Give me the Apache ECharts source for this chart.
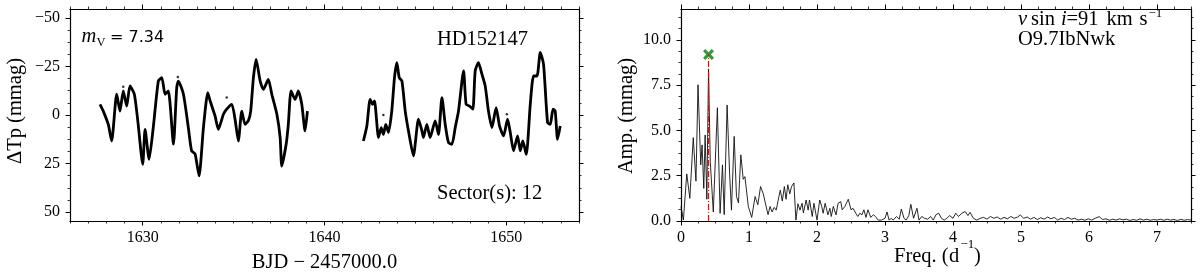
<!DOCTYPE html>
<html><head><meta charset="utf-8">
<script src="https://cdn.jsdelivr.net/npm/echarts@6/dist/echarts.min.js"></script>
<style>html,body{margin:0;padding:0;background:#fff}#c{width:1200px;height:279px}</style>
</head><body><div id="c"></div>
<script>
// ---- Light curve (BJD - 2457000, mmag) ----
const time1=[1627.65,1627.83,1628.11,1628.29,1628.57,1628.75,1628.93,1629.12,1629.30,1629.54,1629.73,1630.00,1630.13,1630.35,1630.58,1630.86,1631.05,1631.23,1631.41,1631.69,1631.87,1631.96,1632.24,1632.51,1632.69,1632.88,1633.10,1633.34,1633.58,1633.71,1633.98,1634.16,1634.44,1634.62,1634.90,1635.08,1635.26,1635.45,1635.63,1635.81,1635.94,1636.09,1636.24,1636.46,1636.64,1636.91,1637.10,1637.38,1637.56,1637.65,1637.89,1638.01,1638.16,1638.38,1638.56,1638.75,1638.93,1639.06];
const mag1=[-5.5,-2,5,13.4,-10.7,-2,-12.4,-4.6,-15,-10.7,3,25.4,7.4,22.8,6.5,-17.5,-19.3,-10.7,-12.4,15,-14,-17.5,-10.7,6.5,18.5,20,31.4,6.5,-11.5,-7.2,0.5,7.4,-0.4,-3,-5.5,2.2,13.4,-2,4.8,3,-2,-19.3,-28.7,-17.5,-13.2,-18.4,-10.7,-0.4,11.6,26.3,15.1,4.8,-12.4,-8,-12.4,-5.5,8.2,-2];
const time2=[1642.14,1642.33,1642.51,1642.64,1642.75,1642.97,1643.12,1643.24,1643.37,1643.52,1643.70,1643.85,1643.98,1644.11,1644.26,1644.44,1644.62,1644.89,1645.17,1645.36,1645.44,1645.63,1645.81,1646.09,1646.27,1646.46,1646.64,1646.82,1647.01,1647.19,1647.37,1647.65,1647.79,1647.98,1648.16,1648.29,1648.47,1648.66,1648.84,1649.02,1649.21,1649.44,1649.63,1649.85,1650.07,1650.22,1650.40,1650.62,1650.77,1650.91,1651.10,1651.32,1651.50,1651.69,1651.87,1652.05,1652.27,1652.42,1652.57,1652.69,1652.82,1652.97];
const mag2=[13.4,5.7,-8,-5.5,-7.2,11.6,6.5,10,4.8,9,-2,-19.3,-27,-19.3,-17.5,-2,8.2,21,2.2,8.2,11.6,4.8,11.6,3,10,-9,4.8,14.2,15.1,6.5,-2,-22.7,-5.5,-4.6,-3,-22.7,-27,-21,-15,-2,6.5,-3.8,5.7,10.8,2.2,9,18.5,10.8,18.5,13.4,20.3,-5.5,-20.1,-20.1,-32.2,-26.1,3.9,4.8,-3,-2,12.5,5.7];
const outT=[1628.93,1631.93,1634.62,1643.24,1650.03];
const outM=[-14.6,-19.6,-9,0,-0.4];

// ---- Amplitude spectrum (d^-1, mmag) ----
const freq=[0,0.035,0.085,0.13,0.18,0.22,0.25,0.29,0.31,0.335,0.355,0.38,0.405,0.43,0.445,0.475,0.535,0.575,0.61,0.635,0.678,0.715,0.742,0.782,0.816,0.845,0.88,0.915,0.94,0.99,1.04,1.09,1.13,1.17,1.21,1.24,1.28,1.31,1.34,1.37,1.40,1.44,1.46,1.49,1.52,1.545,1.57,1.60,1.625,1.66,1.69,1.72,1.75,1.78,1.80,1.84,1.87,1.89,1.93,1.955,2.00,2.04,2.07,2.09,2.12,2.16,2.19,2.21,2.24,2.28,2.31,2.35,2.37,2.41,2.46,2.50,2.53,2.57,2.60,2.63,2.66,2.69,2.72,2.75,2.79,2.83,2.86,2.90,2.95,3.00,3.03,3.06,3.09,3.12,3.17,3.21,3.24,3.28,3.31,3.35,3.38,3.42,3.47,3.50,3.54,3.58,3.63,3.67,3.71,3.75,3.79,3.83,3.87,3.91,3.95,4.00,4.04,4.08,4.13,4.18,4.22,4.25,4.30,4.35,4.40,4.45,4.50,4.55,4.60,4.65,4.70,4.75,4.80,4.85,4.90,4.95,4.99,5.04,5.09,5.14,5.19,5.24,5.29,5.34,5.39,5.44,5.49,5.54,5.59,5.64,5.69,5.74,5.79,5.84,5.89,5.94,5.99,6.04,6.09,6.15,6.20,6.25,6.30,6.35,6.40,6.45,6.50,6.55,6.60,6.65,6.70,6.75,6.80,6.85,6.90,6.95,7.00,7.05,7.10,7.15,7.20,7.25,7.30,7.35,7.40,7.45,7.50];
const amp=[0.8,0.05,2.6,1.25,4.6,2.2,7.52,3.1,4.2,1.8,4.75,1.2,8.4,3.3,3.2,0.5,6.25,0.42,3.1,0.35,6.4,2.6,0.6,4.67,1.35,1.0,3.65,2.3,2.45,0.8,0.2,1.35,0.9,1.9,1.5,1.0,0.35,0.8,0.5,0.75,0.6,1.35,1.7,1.1,1.9,1.2,2.0,1.5,1.9,2.1,0.05,0.95,0.6,0.98,0.45,1.16,0.6,1.16,0.25,0.98,0.05,1.16,0.8,0.43,0.98,0.34,0.7,0.25,0.8,0.34,0.98,1.07,0.62,0.8,1.2,0.62,0.7,0.43,0.25,0.43,0.34,0.62,0.2,0.62,0.2,0.34,0.25,0.05,0.05,0.15,0.5,0.05,0.15,0.05,0.25,0.1,0.66,0.15,0.05,0.3,0.92,0.15,0.7,0.05,0.25,0.15,0.1,0.25,0.05,0.35,0.43,0.15,0.05,0.15,0.3,0.15,0.43,0.25,0.43,0.52,0.3,0.48,0.15,0.05,0.15,0.2,0.1,0.25,0.15,0.22,0.1,0.2,0.12,0.25,0.15,0.22,0.33,0.15,0.22,0.1,0.2,0.08,0.18,0.1,0.22,0.12,0.2,0.05,0.15,0.08,0.2,0.1,0.15,0.05,0.1,0.04,0.12,0.05,0.15,0.24,0.08,0.12,0.04,0.1,0.05,0.12,0.06,0.1,0.03,0.08,0.04,0.12,0.05,0.1,0.04,0.08,0.05,0.1,0.04,0.1,0.05,0.08,0.03,0.09,0.04,0.08,0.05];
const peakFreq=0.405;
const markAmp=9.19;

// ---- Tick labels ----
const xTicksL=[1630,1640,1650];
const yTicksL=[-50,-25,0,25,50];
const xTicksR=[0,1,2,3,4,5,6,7];
const yTicksR=[0,2.5,5,7.5,10];

const serif='Liberation Serif';
function zip(a,b){return a.map((v,i)=>[v,b[i]]);}
function steps(a,b,s){const r=[];for(let k=0;a+k*s<=b+1e-9;k++)r.push(+(a+k*s).toFixed(4));return r;}
const minX_L=steps(1626,1654,1), minY_L=steps(-50,50,6.25), minX_R=steps(0,7.5,0.25), minY_R=steps(0,11.25,0.625);

const lineSt={show:true,onZero:false,lineStyle:{color:'#000',width:1.2}};
const noLine={show:false,onZero:false};
const majTick=(vals)=>({show:true,inside:false,length:4.5,customValues:vals,lineStyle:{color:'#000',width:1}});
const minTick=(vals)=>({show:true,inside:false,length:2.5,customValues:vals,lineStyle:{color:'#000',width:0.8}});
const lab=(vals,fmt,margin)=>({show:true,customValues:vals,formatter:fmt,fontFamily:serif,fontSize:16,color:'#000',margin:margin});

function axes(grid,min,max,major,minor,fmt,dir,inverse){
  const base={gridIndex:grid,type:'value',min,max,inverse:!!inverse,splitLine:{show:false}};
  const p1=dir==='x'?'bottom':'left', p2=dir==='x'?'top':'right';
  return [
    Object.assign({},base,{position:p1,axisLine:lineSt,axisTick:majTick(major),axisLabel:lab(major,fmt,dir==='x'?9:10)}),
    Object.assign({},base,{position:p1,axisLine:noLine,axisTick:minTick(minor),axisLabel:{show:false}}),
    Object.assign({},base,{position:p2,axisLine:lineSt,axisTick:majTick(major),axisLabel:{show:false}}),
    Object.assign({},base,{position:p2,axisLine:noLine,axisTick:minTick(minor),axisLabel:{show:false}})
  ];
}
const fmtInt=v=>(v<0?'\u2212'+(-v):String(v));
const fmt1=v=>v.toFixed(1);

function T(x,y,text,opt,rot){
  const st=Object.assign({text,fill:'#000',font:'20.5px "Liberation Serif"',align:'left',verticalAlign:'middle',textAlign:'left',textVerticalAlign:'middle'},opt||{});
  const e={type:'text',x,y,silent:true,style:st};
  if(rot) e.rotation=rot;
  return e;
}
const IT='italic 20.5px "Liberation Serif"', SM='13px "Liberation Serif"', CEN={align:'center',textAlign:'center'};

const chart=echarts.init(document.getElementById('c'),null,{renderer:'canvas'});
chart.setOption({
  animation:false,
  backgroundColor:'#fff',
  grid:[{left:70,top:9,width:509,height:212},{left:681,top:9,width:510,height:212}],
  xAxis:[].concat(axes(0,1626,1654,xTicksL,minX_L,fmtInt,'x'),axes(1,0,7.5,xTicksR,minX_R,fmtInt,'x')),
  yAxis:[].concat(axes(0,-54.6,54.6,yTicksL,minY_L,fmtInt,'y',true),axes(1,0,11.7,yTicksR,minY_R,fmt1,'y')),
  series:[
    {type:'line',xAxisIndex:0,yAxisIndex:0,data:zip(time1,mag1),showSymbol:false,smooth:0.2,lineStyle:{color:'#000',width:2.8},silent:true},
    {type:'line',xAxisIndex:0,yAxisIndex:0,data:zip(time2,mag2),showSymbol:false,smooth:0.2,lineStyle:{color:'#000',width:2.8},silent:true},
    {type:'scatter',xAxisIndex:0,yAxisIndex:0,data:zip(outT,outM),symbolSize:2.5,itemStyle:{color:'#000'},silent:true},
    {type:'line',xAxisIndex:4,yAxisIndex:4,data:zip(freq,amp),showSymbol:false,lineStyle:{color:'#111',width:0.9},silent:true},
    {type:'line',xAxisIndex:4,yAxisIndex:4,data:[[peakFreq,0],[peakFreq,markAmp]],showSymbol:false,lineStyle:{color:'#ff0000',width:1.2,type:[6,2,1,2]},silent:true},
    {type:'scatter',xAxisIndex:4,yAxisIndex:4,data:[[peakFreq,markAmp]],symbol:'path://M2,0L5,3L8,0L10,2L7,5L10,8L8,10L5,7L2,10L0,8L3,5L0,2Z',symbolSize:11,itemStyle:{color:'#008000'},silent:true}
  ],
  graphic:[
    T(81.5,37,'m',{font:IT}),
    T(96.5,43,'V',{font:'12.5px "Liberation Serif"'}),
    T(110,37.5,'= 7.34',{font:'16px "DejaVu Sans"'}),
    T(437,40,'HD152147'),
    T(437,194,'Sector(s): 12'),
    T(1018,19.5,'v',{font:IT}),
    T(1031,19.5,'sin'),
    T(1061,19.5,'i',{font:IT}),
    T(1066.5,19.5,'=91'),
    T(1106.5,19.5,'km'),
    T(1139.5,19.5,'s'),
    T(1148.5,13.5,'\u22121',{font:SM}),
    T(1018,40,'O9.7IbNwk'),
    T(16,111,'\u0394Tp (mmag)',CEN,Math.PI/2),
    T(324.5,263,'BJD \u2212 2457000.0',CEN),
    T(627,116,'Amp. (mmag)',CEN,Math.PI/2),
    T(894,257,'Freq. ('),
    T(949,257,'d'),
    T(960.5,245,'\u22121',{font:SM}),
    T(974,257,')')
  ]
});
</script></body></html>
